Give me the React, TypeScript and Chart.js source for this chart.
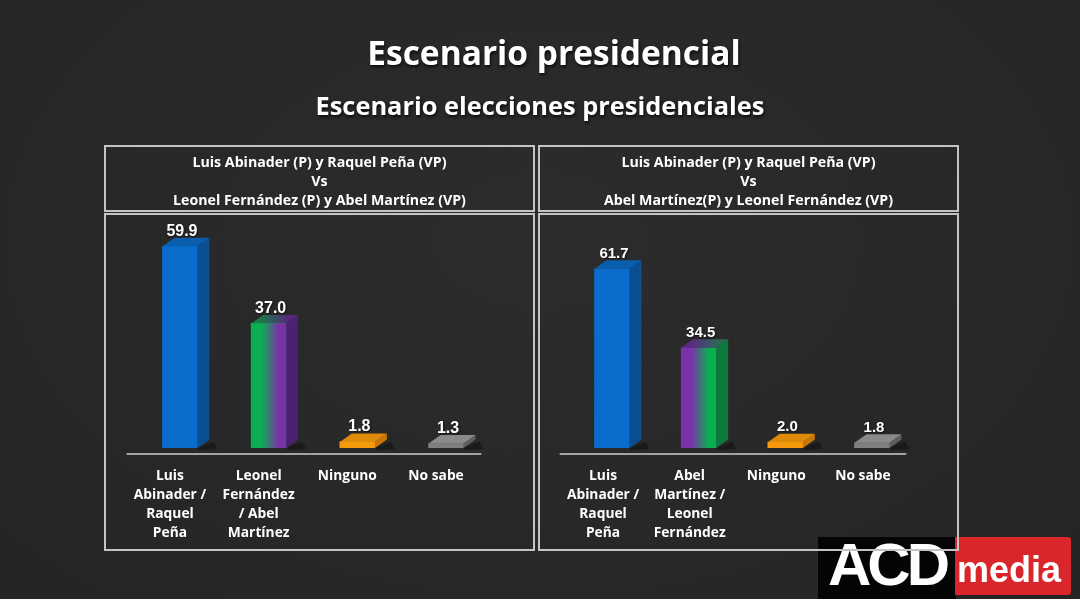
import React, { useEffect, useRef } from "react";
import { Chart, registerables } from "chart.js";

Chart.register(...registerables);

// ---------- data ----------
const titleText = "Escenario presidencial";
const subtitleText = "Escenario elecciones presidenciales";

const leftHeader = [
  "Luis Abinader (P) y Raquel Peña (VP)",
  "Vs",
  "Leonel Fernández (P) y Abel Martínez (VP)",
];
const rightHeader = [
  "Luis Abinader (P) y Raquel Peña (VP)",
  "Vs",
  "Abel Martínez(P) y Leonel Fernández (VP)",
];

const leftCategories = [
  ["Luis", "Abinader /", "Raquel", "Peña"],
  ["Leonel", "Fernández", "/ Abel", "Martínez"],
  ["Ninguno"],
  ["No sabe"],
];
const leftValues = [59.9, 37.0, 1.8, 1.3];

const rightCategories = [
  ["Luis", "Abinader /", "Raquel", "Peña"],
  ["Abel", "Martínez /", "Leonel", "Fernández"],
  ["Ninguno"],
  ["No sabe"],
];
const rightValues = [61.7, 34.5, 2.0, 1.8];

// ---------- styles ----------
type FaceStyle = {
  front: string;
  frontGrad?: [string, string];
  side: string;
  top: string;
  topGrad?: [string, string];
};

const BLUE: FaceStyle = { front: "#0a6dcb", side: "#094f92", top: "#0a5eae" };
const ORANGE: FaceStyle = { front: "#f59a0c", side: "#c97706", top: "#e08a0a" };
const GRAY: FaceStyle = { front: "#7f7f7f", side: "#5e5e5e", top: "#8a8a8a" };
const GREEN_PURPLE: FaceStyle = {
  front: "#00b050",
  frontGrad: ["#0cae52", "#7a33a6"],
  side: "#4b2172",
  top: "#1f7a48",
  topGrad: ["#1b7a46", "#57287f"],
};
const PURPLE_GREEN: FaceStyle = {
  front: "#7a33a6",
  frontGrad: ["#7a33a6", "#0cae52"],
  side: "#0b7a3a",
  top: "#5a2b85",
  topGrad: ["#5a2b85", "#2b6a56"],
};

const leftStyles = [BLUE, GREEN_PURPLE, ORANGE, GRAY];
const rightStyles = [BLUE, PURPLE_GREEN, ORANGE, GRAY];

const FONT = "'Open Sans', Lato, sans-serif";
const NUM_FONT = "'Liberation Sans', Arial, sans-serif";

const bar3d = {
  id: "bar3d",
  afterDatasetsDraw(chart: any, _args: any, opts: any) {
    const { ctx, chartArea } = chart;
    const meta = chart.getDatasetMeta(0);
    const data = chart.data.datasets[0].data as number[];
    const dx = opts.dx;
    const dy = opts.dy;
    const styles: FaceStyle[] = opts.styles;
    ctx.save();
    // floor / axis line
    ctx.strokeStyle = "#a3a3a3";
    ctx.lineWidth = 2;
    ctx.beginPath();
    ctx.moveTo(chartArea.left - 9, chartArea.bottom + 6);
    ctx.lineTo(chartArea.right - 9, chartArea.bottom + 6);
    ctx.stroke();

    meta.data.forEach((el: any, i: number) => {
      const { x, y, base, width } = el.getProps(["x", "y", "base", "width"], true);
      const l = x - width / 2;
      const r = x + width / 2;
      const st = styles[i];

      // soft shadow
      ctx.fillStyle = "rgba(0,0,0,0.35)";
      ctx.beginPath();
      ctx.moveTo(r, base);
      ctx.lineTo(r + dx + 4, base - dy + 2);
      ctx.lineTo(r + dx + 8, base + 1);
      ctx.lineTo(r + 2, base + 2);
      ctx.closePath();
      ctx.fill();

      // side face
      ctx.fillStyle = st.side;
      ctx.beginPath();
      ctx.moveTo(r, y);
      ctx.lineTo(r + dx, y - dy);
      ctx.lineTo(r + dx, base - dy);
      ctx.lineTo(r, base);
      ctx.closePath();
      ctx.fill();

      // top face
      if (st.topGrad) {
        const g = ctx.createLinearGradient(l, 0, r + dx, 0);
        g.addColorStop(0.2, st.topGrad[0]);
        g.addColorStop(0.8, st.topGrad[1]);
        ctx.fillStyle = g;
      } else {
        ctx.fillStyle = st.top;
      }
      ctx.beginPath();
      ctx.moveTo(l, y);
      ctx.lineTo(l + dx, y - dy);
      ctx.lineTo(r + dx, y - dy);
      ctx.lineTo(r, y);
      ctx.closePath();
      ctx.fill();

      // gradient front face
      if (st.frontGrad) {
        const g = ctx.createLinearGradient(l, 0, r, 0);
        g.addColorStop(0.3, st.frontGrad[0]);
        g.addColorStop(0.78, st.frontGrad[1]);
        ctx.fillStyle = g;
        ctx.fillRect(l, y, r - l, base - y);
      }

      // value label
      ctx.fillStyle = "#ffffff";
      ctx.font = `bold ${opts.labelSize}px ${NUM_FONT}`;
      ctx.textAlign = "center";
      ctx.textBaseline = "middle";
      ctx.shadowColor = "rgba(0,0,0,0.6)";
      ctx.shadowBlur = 2;
      ctx.shadowOffsetX = 1;
      ctx.shadowOffsetY = 1;
      ctx.fillText(data[i].toFixed(1), x + 2, y - 15);
      ctx.shadowColor = "transparent";
    });
    ctx.restore();
  },
};

type PanelProps = {
  categories: string[][];
  values: number[];
  styles: FaceStyle[];
  yMax: number;
  labelOffset: number;
  padding: { left: number; right: number; top: number };
  labelSize: number;
  left: number;
  top: number;
  width: number;
  height: number;
};

function BarPanel(p: PanelProps) {
  const ref = useRef<HTMLCanvasElement | null>(null);
  useEffect(() => {
    if (!ref.current) return;
    const chart = new Chart(ref.current, {
      type: "bar",
      data: {
        labels: p.categories,
        datasets: [
          {
            data: p.values,
            backgroundColor: p.styles.map((s) => s.front),
            borderWidth: 0,
            barThickness: 35,
          },
        ],
      },
      options: {
        animation: false,
        responsive: false,
        maintainAspectRatio: false,
        layout: { padding: { left: p.padding.left, right: p.padding.right, top: p.padding.top, bottom: 0 } },
        plugins: {
          legend: { display: false },
          tooltip: { enabled: false },
          title: { display: false },
          bar3d: { dx: 12, dy: 8.5, styles: p.styles, labelSize: p.labelSize },
        } as any,
        scales: {
          x: {
            grid: { display: false, drawTicks: false },
            border: { display: false },
            ticks: {
              color: "#ffffff",
              padding: 19,
              labelOffset: p.labelOffset,
              maxRotation: 0,
              autoSkip: false,
              font: { family: FONT, weight: "bold", size: 13.8, lineHeight: "19px" } as any,
            },
            afterFit: (scale: any) => {
              scale.height = 101;
            },
          },
          y: {
            display: false,
            min: 0,
            max: p.yMax,
          },
        },
      },
      plugins: [bar3d as any],
    });
    return () => chart.destroy();
  }, []);
  return (
    <canvas
      ref={ref}
      width={p.width}
      height={p.height}
      style={{ position: "absolute", left: p.left, top: p.top, width: p.width, height: p.height }}
    />
  );
}

const boxBorder = "2px solid #c4c4c4";

function HeaderBox({ lines, left, top, width, height }: { lines: string[]; left: number; top: number; width: number; height: number }) {
  return (
    <div
      style={{
        position: "absolute",
        left,
        top,
        width,
        height,
        boxSizing: "border-box",
        border: boxBorder,
        paddingTop: 4,
        display: "flex",
        flexDirection: "column",
        alignItems: "center",
        justifyContent: "center",
        color: "#ffffff",
        fontFamily: FONT,
        fontWeight: 700,
        fontSize: 14.2,
        lineHeight: "19px",
      }}
    >
      {lines.map((t, i) => (
        <div key={i}>{t}</div>
      ))}
    </div>
  );
}

function FrameBox({ left, top, width, height }: { left: number; top: number; width: number; height: number }) {
  return (
    <div
      style={{
        position: "absolute",
        left,
        top,
        width,
        height,
        boxSizing: "border-box",
        border: boxBorder,
        pointerEvents: "none",
      }}
    />
  );
}

export default function App() {
  return (
    <div
      style={{
        position: "fixed",
        left: 0,
        top: 0,
        width: 1080,
        height: 599,
        overflow: "hidden",
        background: "radial-gradient(ellipse at 50% 40%, #2c2c2c 0%, #272727 70%, #242424 100%)",
      }}
    >
      {/* titles */}
      <div
        style={{
          position: "absolute",
          left: 14,
          top: 31,
          width: 1080,
          textAlign: "center",
          color: "#ffffff",
          fontFamily: FONT,
          fontWeight: 700,
          fontSize: 33.5,
          lineHeight: "42px",
          textShadow: "1px 2px 3px rgba(0,0,0,0.7)",
        }}
      >
        {titleText}
      </div>
      <div
        style={{
          position: "absolute",
          left: 0,
          top: 89,
          width: 1080,
          textAlign: "center",
          color: "#ffffff",
          fontFamily: FONT,
          fontWeight: 700,
          fontSize: 25.4,
          lineHeight: "32px",
          textShadow: "1px 2px 3px rgba(0,0,0,0.7)",
        }}
      >
        {subtitleText}
      </div>

      {/* logo (under the frame borders) */}
      <div style={{ position: "absolute", left: 818, top: 537, width: 138, height: 62, background: "#050505" }} />
      <div
        style={{
          position: "absolute",
          left: 828,
          top: 531,
          color: "#ffffff",
          fontFamily: NUM_FONT,
          fontWeight: 700,
          fontSize: 60,
          lineHeight: "68px",
          letterSpacing: -4,
        }}
      >
        ACD
      </div>
      <div
        style={{
          position: "absolute",
          left: 955,
          top: 537,
          width: 116,
          height: 58,
          background: "#d8262a",
          borderRadius: "0 3px 3px 0",
        }}
      />
      <div
        style={{
          position: "absolute",
          left: 957,
          top: 548,
          color: "#ffffff",
          fontFamily: NUM_FONT,
          fontWeight: 700,
          fontSize: 36,
          lineHeight: "44px",
        }}
      >
        media
      </div>

      <HeaderBox lines={leftHeader} left={104} top={145} width={431} height={67} />
      <HeaderBox lines={rightHeader} left={538} top={145} width={421} height={67} />

      <BarPanel
        categories={leftCategories}
        values={leftValues}
        styles={leftStyles}
        yMax={60}
        labelOffset={-10}
        padding={{ left: 29.6, right: 42.6, top: 31 }}
        labelSize={16}
        left={106}
        top={215}
        width={427}
        height={334}
      />
      <BarPanel
        categories={rightCategories}
        values={rightValues}
        styles={rightStyles}
        yMax={62}
        labelOffset={-9}
        padding={{ left: 28.7, right: 41.7, top: 53 }}
        labelSize={15}
        left={540}
        top={215}
        width={417}
        height={334}
      />

      <FrameBox left={104} top={213} width={431} height={338} />
      <FrameBox left={538} top={213} width={421} height={338} />
    </div>
  );
}
